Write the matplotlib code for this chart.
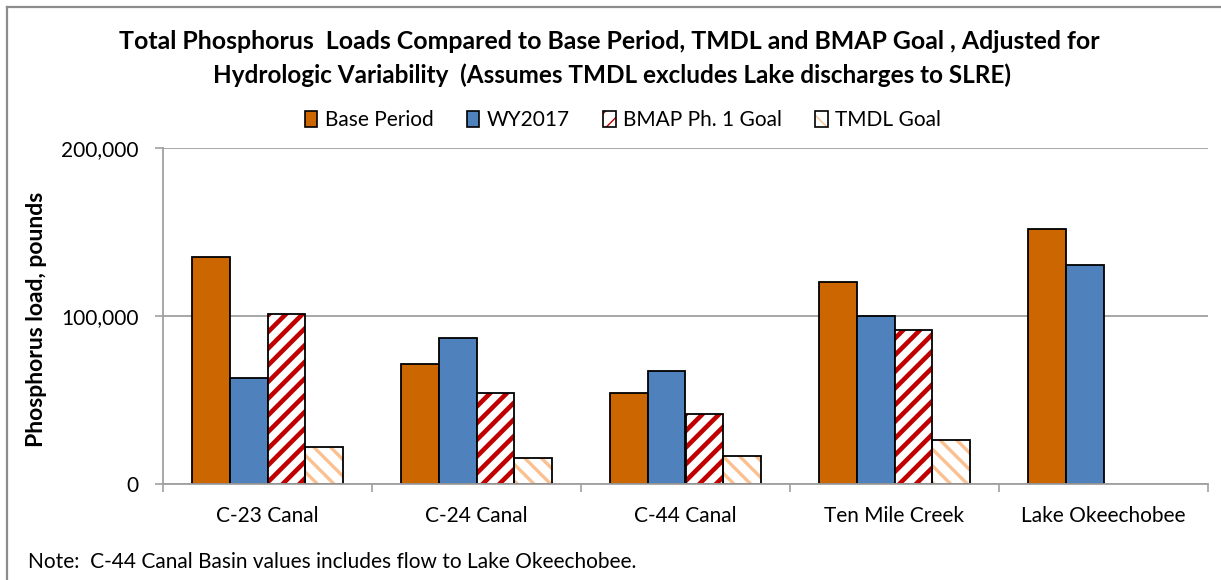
import numpy as np
import matplotlib
matplotlib.use('Agg')
import matplotlib.pyplot as plt
from matplotlib.patches import Patch
from matplotlib.legend_handler import HandlerTuple
from matplotlib.lines import Line2D

categories = ['C-23 Canal', 'C-24 Canal', 'C-44 Canal', 'Ten Mile Creek', 'Lake Okeechobee']
base_period = [135300, 71700, 54200, 120500, 151800]
wy2017 = [63000, 87200, 67300, 100300, 130400]
bmap_goal = [101200, 54200, 42000, 91800, np.nan]
tmdl_goal = [22100, 15500, 16400, 26000, np.nan]
series_names = ['Base Period', 'WY2017', 'BMAP Ph. 1 Goal', 'TMDL Goal']
y_ticks = [0, 100000, 200000]
title_lines = ['Total Phosphorus  Loads Compared to Base Period, TMDL and BMAP Goal , Adjusted for',
               'Hydrologic Variability  (Assumes TMDL excludes Lake discharges to SLRE)']
y_label = 'Phosphorus load, pounds'
note = 'Note:  C-44 Canal Basin values includes flow to Lake Okeechobee.'

C_BASE = '#CC6600'
C_WY = '#4F81BD'
C_BMAP = '#C00000'
C_TMDL = '#FAC090'
GRID = '#A0A0A0'
FONT = 'Lato'

W, H = 1221, 580
fig = plt.figure(figsize=(W / 100, H / 100), dpi=100)
fig.patch.set_facecolor('white')
ax = fig.add_axes([163 / W, 1 - 484 / H, (1208 - 163) / W, (484 - 148.3) / H])

x = np.arange(len(categories))
w = 0.18
offs = [-1.5 * w, -0.5 * w, 0.5 * w, 1.5 * w]
EDGE_LW = 1.3


def valid(vals):
    v = np.asarray(vals, dtype=float)
    m = ~np.isnan(v)
    return m, v


m, v = valid(base_period)
ax.bar(x[m] + offs[0], v[m], w, color=C_BASE, edgecolor='black', linewidth=EDGE_LW, zorder=3)
m, v = valid(wy2017)
ax.bar(x[m] + offs[1], v[m], w, color=C_WY, edgecolor='black', linewidth=EDGE_LW, zorder=3)


def hatched_bars(vals, off, color, hatch, hlw):
    m, v = valid(vals)
    with plt.rc_context({'hatch.linewidth': hlw}):
        bars = ax.bar(x[m] + off, v[m], w, color='white', edgecolor=color, hatch=hatch,
                      linewidth=0, zorder=3)
        for b in bars:
            if hasattr(b, 'set_hatch_linewidth'):
                b.set_hatch_linewidth(hlw)
    ax.bar(x[m] + off, v[m], w, fill=False, edgecolor='black', linewidth=EDGE_LW, zorder=4)


hatched_bars(bmap_goal, offs[2], C_BMAP, '//', 3.3)
hatched_bars(tmdl_goal, offs[3], C_TMDL, '\\\\', 2.4)

ax.set_xlim(-0.5, len(categories) - 0.5)
ax.set_ylim(0, 200000)
ax.set_yticks(y_ticks)
ax.set_yticklabels([f'{t:,}' for t in y_ticks], fontsize=15, family=FONT)
ax.set_xticks(x)
ax.set_xticklabels(categories, fontsize=15, family=FONT)
ax.set_xticks(np.arange(-0.5, len(categories), 1.0), minor=True)
ax.tick_params(axis='x', which='major', length=0, pad=16)
ax.tick_params(axis='x', which='minor', length=5.5, color=GRID, width=1.2)
ax.tick_params(axis='y', length=5.5, color=GRID, width=1.2, pad=12)
ax.yaxis.grid(True, color=GRID, linewidth=1.3, zorder=0)
ax.set_axisbelow(True)
for s in ['top', 'right']:
    ax.spines[s].set_visible(False)
for s in ['left', 'bottom']:
    ax.spines[s].set_color(GRID)
    ax.spines[s].set_linewidth(1.3)
ax.spines['bottom'].set_zorder(5)

# y label
fig.text(37 / W, 1 - 319 / H, y_label, rotation=90, ha='center', va='center',
         fontsize=16.5, fontweight='bold', family=FONT)

# title
fig.text(609 / W, 1 - 41.5 / H, title_lines[0], ha='center', va='center',
         fontsize=17.9, fontweight='bold', family=FONT)
fig.text(612 / W, 1 - 75.5 / H, title_lines[1], ha='center', va='center',
         fontsize=17.5, fontweight='bold', family=FONT)

# legend
with plt.rc_context({'hatch.linewidth': 2.4}):
    h_bmap = (Patch(facecolor='white', edgecolor=C_BMAP, hatch='//', linewidth=0),
              Patch(fill=False, edgecolor='black', linewidth=1.2))
with plt.rc_context({'hatch.linewidth': 2.0}):
    h_tmdl = (Patch(facecolor='white', edgecolor=C_TMDL, hatch='\\\\', linewidth=0),
              Patch(fill=False, edgecolor='black', linewidth=1.2))
handles = [Patch(facecolor=C_BASE, edgecolor='black', linewidth=1.2),
           Patch(facecolor=C_WY, edgecolor='black', linewidth=1.2),
           h_bmap, h_tmdl]
fig.legend(handles, series_names, loc='center', bbox_to_anchor=(623 / W, 1 - 120 / H),
           ncol=4, frameon=False, handler_map={tuple: HandlerTuple(ndivide=1, pad=0)},
           handlelength=0.6, handleheight=0.8, handletextpad=0.35, columnspacing=1.6,
           prop={'family': FONT, 'size': 15})

# note
fig.text(28 / W, 1 - 561.5 / H, note, ha='left', va='center', fontsize=15, family=FONT)

# outer frame (top and left visible)
fig.add_artist(Line2D([7 / W, 7 / W], [0, 1 - 7 / H], transform=fig.transFigure,
                      color='#8C8C8C', linewidth=1.6))
fig.add_artist(Line2D([7 / W, 1], [1 - 7 / H, 1 - 7 / H], transform=fig.transFigure,
                      color='#8C8C8C', linewidth=1.6))

fig.savefig('out.png', dpi=100, facecolor='white')
